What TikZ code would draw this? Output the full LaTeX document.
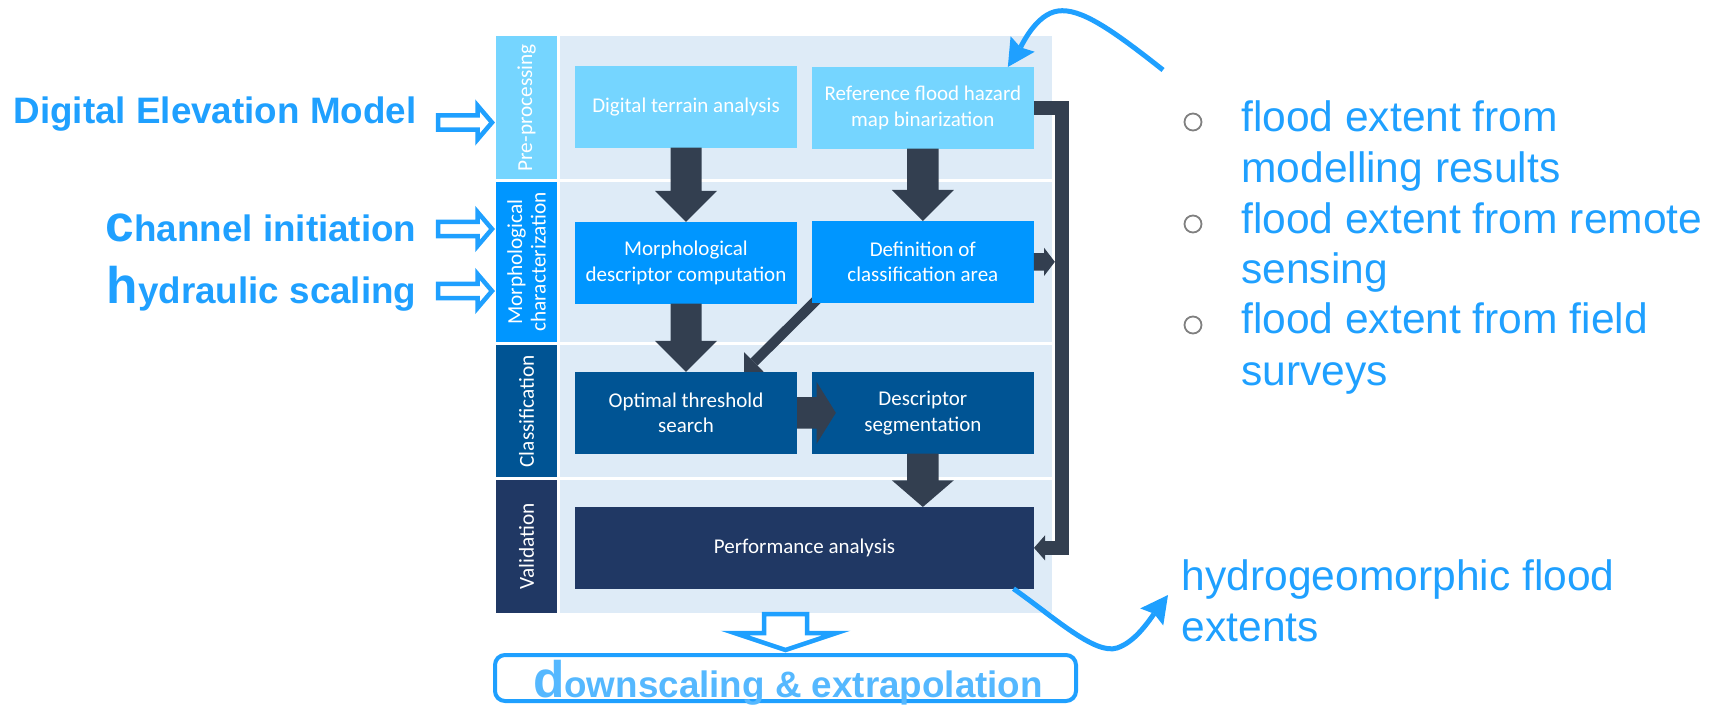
\documentclass[tikz,border=0pt]{standalone}
\usepackage{fontspec}
\setmainfont{Carlito}
\newfontfamily\arialfont{Liberation Sans}
\usetikzlibrary{calc,arrows.meta}

\definecolor{lanebg}{HTML}{DEEBF7}
\definecolor{preC}{HTML}{75D5FF}
\definecolor{morphC}{HTML}{0096FF}
\definecolor{classC}{HTML}{005494}
\definecolor{validC}{HTML}{203864}
\definecolor{arrowdark}{HTML}{333F50}
\definecolor{brightblue}{HTML}{1FA0FF}
\definecolor{softblue}{HTML}{55B8FF}
\definecolor{bulletgray}{HTML}{808080}

\pgfdeclarelayer{lanes}
\pgfdeclarelayer{under}
\pgfsetlayers{lanes,under,main}

\tikzset{
  stepbox/.style={rectangle, inner sep=0pt, outer sep=0pt, minimum width=166.5pt,
    minimum height=61.3pt, text=white, align=center,
    font=\fontsize{15.75}{19.2}\selectfont},
  lanebox/.style={rectangle, inner sep=0pt, outer sep=0pt, minimum width=369pt, fill=lanebg},
  lanelab/.style={rectangle, inner sep=0pt, outer sep=0pt, minimum width=45.75pt},
  labtext/.style={rotate=90, text=white, align=center, inner sep=0pt,
    font=\fontsize{16}{17.6}\selectfont},
  blockarrow/.style={fill=arrowdark},
  sidetext/.style={text=brightblue, inner sep=0pt,
    font=\arialfont\bfseries\fontsize{27.6}{33}\selectfont},
  listtext/.style={text=brightblue, inner sep=0pt, anchor=base west,
    font=\arialfont\fontsize{31.9}{38}\selectfont},
  hollow/.style={draw=brightblue, line width=3.375pt, fill=white, line join=miter},
  curvearrow/.style={draw=brightblue, line width=3.75pt,
    -{Stealth[length=20.5pt, width=21.5pt, inset=3pt, line width=0pt]}},
  bulletmark/.style={circle, draw=bulletgray, line width=1.35pt, minimum size=12.75pt,
    inner sep=0pt},
}

% thick block arrow pointing down: start, tip, shaft half width, head half width, head length
\newcommand\downblock[5]{%
  \fill[blockarrow] ($(#1)+(-#3,0)$) -- ($(#2)+(-#3,-#5)$) -- ($(#2)+(-#4,-#5)$) -- (#2)
    -- ($(#2)+(#4,-#5)$) -- ($(#2)+(#3,-#5)$) -- ($(#1)+(#3,0)$) -- cycle;}
% thick block arrow pointing right
\newcommand\rightblock[5]{%
  \fill[blockarrow] ($(#1)+(0,-#3)$) -- ($(#2)+(-#5,-#3)$) -- ($(#2)+(-#5,-#4)$) -- (#2)
    -- ($(#2)+(-#5,#4)$) -- ($(#2)+(-#5,#3)$) -- ($(#1)+(0,#3)$) -- cycle;}
% outlined input arrow pointing right
\newcommand\hollowright[2]{%
  \draw[hollow] ($(#1)+(0,-7.2)$) -- ($(#2)+(-14.5,-7.2)$) -- ($(#2)+(-14.5,-17)$) -- (#2)
    -- ($(#2)+(-14.5,17)$) -- ($(#2)+(-14.5,7.2)$) -- ($(#1)+(0,7.2)$) -- cycle;}
\newcommand\bigfirst[1]{{\fontsize{38.6}{40}\selectfont #1}}

\begin{document}
\begin{tikzpicture}[x=0.75pt,y=-0.75pt]
\useasboundingbox (0,0) rectangle (1721,706);

% ---- swimlanes ----
\begin{pgfonlayer}{lanes}
\node[lanelab, fill=preC,   minimum height=107.5pt]  (prelab)   at (526.5,107.65) {};
\node[lanelab, fill=morphC, minimum height=119.55pt] (morphlab) at (526.5,262) {};
\node[lanelab, fill=classC, minimum height=99.2pt]   (classlab) at (526.5,411.15) {};
\node[lanelab, fill=validC, minimum height=99.5pt]   (validlab) at (526.5,546.35) {};
\node[lanebox, minimum height=107.5pt]  (prelane)   at (806,107.65) {};
\node[lanebox, minimum height=119.55pt] (morphlane) at (806,262) {};
\node[lanebox, minimum height=99.2pt]   (classlane) at (806,411.15) {};
\node[lanebox, minimum height=99.5pt]   (validlane) at (806,546.35) {};
\end{pgfonlayer}

\node[labtext] (pretext)   at (prelab)   {Pre-processing};
\node[labtext] (morphtext) at (morphlab) {Morphological\\characterization};
\node[labtext] (classtext) at (classlab) {Classification};
\node[labtext] (validtext) at (validlab) {Validation};

% ---- process steps ----
\node[stepbox, fill=preC]   (dta)   at (686,106.85)    {Digital terrain analysis};
\node[stepbox, fill=preC]   (ref)   at (922.85,107.85) {Reference flood hazard\\map binarization};
\node[stepbox, fill=morphC] (morph) at (686,262.85)    {Morphological\\descriptor computation};
\node[stepbox, fill=morphC] (def)   at (922.85,261.85) {Definition of\\classification area};
\node[stepbox, fill=classC] (opt)   at (686,412.85)    {Optimal threshold\\search};
\node[stepbox, fill=classC] (seg)   at (922.85,412.85) {Descriptor\\segmentation};
\node[stepbox, fill=validC, minimum width=344.25pt] (perf) at (804.5,547.85) {Performance analysis};

% ---- connectors between steps ----
\begin{pgfonlayer}{under}
\draw[arrowdark, line width=7.5pt, -{Triangle[length=10.5pt, width=21pt, line width=0pt]}]
  ($(def.south west)+(8,-6)$) -- ($(opt.north)+(58,0)$);
\end{pgfonlayer}

\coordinate (segperf) at (seg.south |- perf.north);
\downblock{dta.south}{morph.north}{15.5}{31}{31}
\downblock{ref.south}{def.north}{15.7}{31}{31}
\downblock{morph.south}{opt.north}{15.5}{31}{31}
\downblock{seg.south}{segperf}{15.7}{31}{26.7}
\coordinate (optseg) at ($(seg.west)+(24,0)$);
\rightblock{opt.east}{optseg}{15.8}{31}{19.3}
\coordinate (defbar) at ($(def.east)+(21,0)$);
\rightblock{def.east}{defbar}{8.7}{14}{10.7}

% return bracket from the reference map to the performance analysis
\draw[arrowdark, line width=10.7pt, line join=miter]
  (ref.east) -- ++(28.2,0) |- ($(perf.east)+(11,0)$);
\fill[blockarrow] (perf.east) -- ++(11,-12.5) -- ++(0,25) -- cycle;

% ---- inputs on the left ----
\node[sidetext, anchor=base east] (dem) at (416.7,124) {Digital Elevation Model};
\node[sidetext, anchor=base east] (chan) at (416.7,241.7) {\bigfirst{c}hannel initiation};
\node[sidetext, anchor=base east] (hyd) at (416.7,303.3) {\bigfirst{h}ydraulic scaling};
\coordinate (in1) at (438,122.5);
\coordinate (in2) at (438,229);
\coordinate (in3) at (438,291);
\coordinate (tip1) at ($(prelab.west |- in1)+(-4,0)$);
\coordinate (tip2) at ($(morphlab.west |- in2)+(-4,0)$);
\coordinate (tip3) at ($(morphlab.west |- in3)+(-4,0)$);
\hollowright{in1}{tip1}
\hollowright{in2}{tip2}
\hollowright{in3}{tip3}

% ---- output at the bottom ----
\node[rectangle, draw=brightblue, line width=3pt, rounded corners=7.5pt, inner sep=0pt,
  outer sep=0pt, minimum width=435.75pt, minimum height=34.5pt] (dsbox) at (785.5,678) {};
\node[sidetext, text=softblue, anchor=base] (dstext) at (788,697.5)
  {\bigfirst{d}ownscaling \& extrapolation};
\coordinate (dsin) at ($(validlane.south -| dsbox.north)+(0,1.5)$);
\coordinate (dstip) at ($(dsbox.north)+(0,-5)$);
\draw[hollow] ($(dsin)+(-21.5,0)$) -- ($(dstip)+(-21.5,-17)$) -- ($(dstip)+(-51,-17)$) -- (dstip)
  -- ($(dstip)+(51,-17)$) -- ($(dstip)+(21.5,-17)$) -- ($(dsin)+(21.5,0)$) -- cycle;

% ---- reference data sources ----
\node[bulletmark] (b1) at (1193,122) {};
\node[bulletmark] (b2) at (1193,224) {};
\node[bulletmark] (b3) at (1193,325) {};
\node[listtext] (s1a) at (1241,131.7) {flood extent from};
\node[listtext] (s1b) at (1241,182.7) {modelling results};
\node[listtext] (s2a) at (1241,233.3) {flood extent from remote};
\node[listtext] (s2b) at (1241,283.3) {sensing};
\node[listtext] (s3a) at (1241,333.3) {flood extent from field};
\node[listtext] (s3b) at (1241,385) {surveys};

\coordinate (srcfrom) at (1163,70);
\draw[curvearrow] (srcfrom) .. controls (1110,28) and (1080,8) .. (1058,11)
  .. controls (1036,14) and (1022,45) .. ($(ref.north east)+(-26,0)$);

% ---- product ----
\node[listtext] (hg1) at (1181.6,590.7) {hydrogeomorphic flood};
\node[listtext] (hg2) at (1181.6,641.7) {extents};
\coordinate (hgtip) at (1168,595);
\draw[curvearrow] ($(perf.south east)+(-20.5,0)$) .. controls (1055,618) and (1095,655) .. (1117,648)
  .. controls (1135,642) and (1148,622) .. (hgtip);
\end{tikzpicture}
\end{document}
